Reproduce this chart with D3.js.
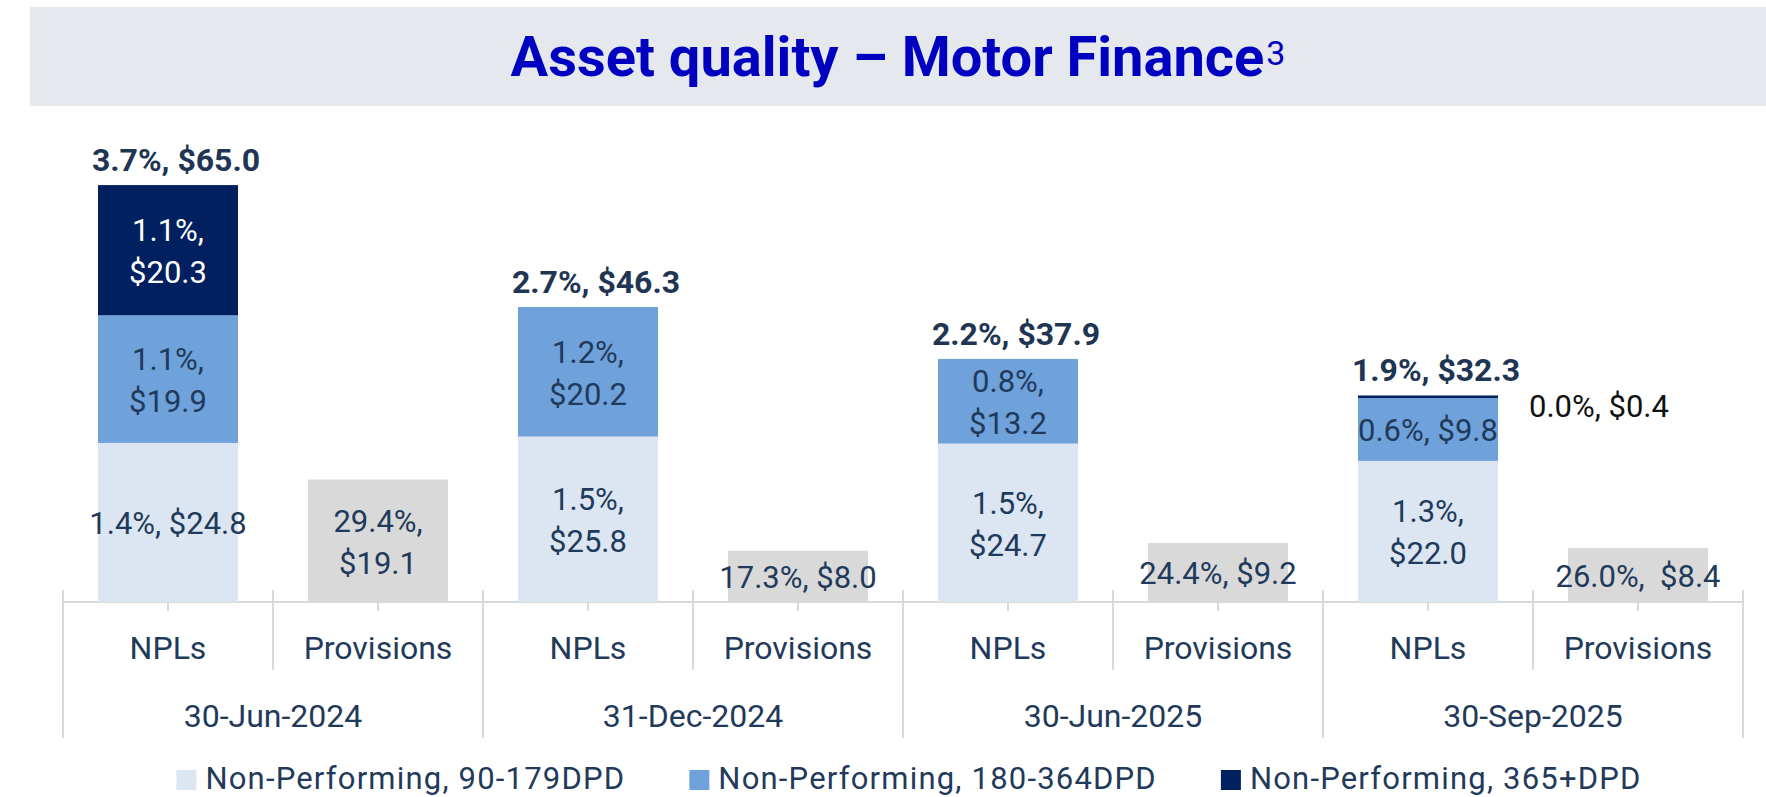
<!DOCTYPE html>
<html>
<head>
<meta charset="utf-8">
<script src="https://cdn.jsdelivr.net/npm/d3@7"></script>
<style>
  body { margin: 0; background: #fff; }
  svg { display: block; font-family: Roboto, "Noto Sans", sans-serif; }
</style>
</head>
<body>
<svg id="chart" width="1766" height="797"></svg>
<script>
// DATA
var dates = ["30-Jun-2024", "31-Dec-2024", "30-Jun-2025", "30-Sep-2025"];
var subCats = ["NPLs", "Provisions"];

// NPL segments, $ values
var npl90 = [24.8, 25.8, 24.7, 22.0];
var npl180 = [19.9, 20.2, 13.2, 9.8];
var npl365 = [20.3, 0, 0, 0.4];
var provisions = [19.1, 8.0, 9.2, 8.4];

// labels ("\n" = line break)
var npl90Labels = ["1.4%, $24.8", "1.5%,\n$25.8", "1.5%,\n$24.7", "1.3%,\n$22.0"];
var npl180Labels = ["1.1%,\n$19.9", "1.2%,\n$20.2", "0.8%,\n$13.2", "0.6%, $9.8"];
var npl365Labels = ["1.1%,\n$20.3", "", "", "0.0%, $0.4"];
var provLabels = ["29.4%,\n$19.1", "17.3%, $8.0", "24.4%, $9.2", "26.0%,  $8.4"];
var totalLabels = ["3.7%, $65.0", "2.7%, $46.3", "2.2%, $37.9", "1.9%, $32.3"];

var seriesNames = ["Non-Performing, 90-179DPD", "Non-Performing, 180-364DPD", "Non-Performing, 365+DPD"];
var seriesColors = ["#dce6f2", "#6fa1db", "#002060"];
var provColor = "#d9d9d9";
var textColor = "#1f3a5a";

var svg = d3.select("#chart");

// TITLE
svg.append("rect")
    .attr("x", 30).attr("y", 7)
    .attr("width", 1736).attr("height", 99)
    .attr("fill", "#e5e8ec");

var title = svg.append("text")
    .attr("x", 898).attr("y", 76)
    .attr("text-anchor", "middle")
    .attr("fill", "#0000c0")
    .style("font-size", "56px")
    .style("font-weight", 700)
    .text("Asset quality – Motor Finance");
title.append("tspan")
    .attr("dy", -11)
    .attr("dx", 2)
    .style("font-size", "34px")
    .style("font-weight", 400)
    .text("3");

// SCALES
var axisY = 602;
var y = d3.scaleLinear().domain([0, 70]).range([axisY, axisY - 70 * 6.414]);

var x0 = d3.scaleBand().domain(dates).range([63, 1743]).padding(0);
var x1 = d3.scaleBand().domain(subCats).range([0, x0.bandwidth()])
    .paddingInner(1 / 3).paddingOuter(1 / 6);

// AXIS LINES
var axisColor = "#d9d9d9";
svg.append("line")
    .attr("x1", x0.range()[0]).attr("x2", x0.range()[1])
    .attr("y1", axisY).attr("y2", axisY)
    .attr("stroke", axisColor).attr("stroke-width", 2);

// group boundaries (long)
var bounds = dates.map(function(d) { return x0(d); }).concat([x0.range()[1]]);
svg.selectAll(".gtick").data(bounds).enter().append("line")
    .attr("x1", function(d) { return d; }).attr("x2", function(d) { return d; })
    .attr("y1", axisY - 12).attr("y2", 738)
    .attr("stroke", axisColor).attr("stroke-width", 2);

// inner boundaries between NPLs and Provisions
svg.selectAll(".itick").data(dates).enter().append("line")
    .attr("x1", function(d) { return x0(d) + x0.bandwidth() / 2; })
    .attr("x2", function(d) { return x0(d) + x0.bandwidth() / 2; })
    .attr("y1", axisY - 12).attr("y2", 670)
    .attr("stroke", axisColor).attr("stroke-width", 2);

// small ticks at category centres + labels
dates.forEach(function(dt) {
    subCats.forEach(function(s) {
        var cx = x0(dt) + x1(s) + x1.bandwidth() / 2;
        svg.append("line")
            .attr("x1", cx).attr("x2", cx)
            .attr("y1", axisY).attr("y2", axisY + 9)
            .attr("stroke", axisColor).attr("stroke-width", 2);
        svg.append("text")
            .attr("x", cx).attr("y", 659)
            .attr("text-anchor", "middle")
            .attr("fill", textColor)
            .style("font-size", "32px")
            .text(s);
    });
    svg.append("text")
        .attr("x", x0(dt) + x0.bandwidth() / 2).attr("y", 727)
        .attr("text-anchor", "middle")
        .attr("fill", textColor)
        .style("font-size", "32px")
        .text(dt);
});

// multi line label helper, centred at (cx, cy)
function addLabel(cx, cy, txt, color) {
    var lines = txt.split("\n");
    var t = svg.append("text")
        .attr("text-anchor", "middle")
        .attr("fill", color)
        .style("font-size", "31px");
    lines.forEach(function(l, i) {
        t.append("tspan")
            .attr("x", cx)
            .attr("y", cy + 12 - (lines.length - 1) * 21 + i * 42)
            .style("white-space", "pre")
            .text(l);
    });
}

// BARS
dates.forEach(function(dt, i) {
    var bx = x0(dt) + x1("NPLs"), bw = x1.bandwidth();
    var segs = [npl90[i], npl180[i], npl365[i]];
    var labs = [npl90Labels[i], npl180Labels[i], npl365Labels[i]];
    var base = 0;
    segs.forEach(function(v, k) {
        if (v > 0) {
            svg.append("rect")
                .attr("x", bx).attr("width", bw)
                .attr("y", y(base + v)).attr("height", y(base) - y(base + v))
                .attr("fill", seriesColors[k]);
            if (labs[k] && v >= 5) {
                addLabel(bx + bw / 2, (y(base) + y(base + v)) / 2, labs[k], k === 2 ? "#fff" : textColor);
            }
        }
        base += v;
    });

    // tiny 365+ slice, label to the right
    if (npl365[i] > 0 && npl365[i] < 5) {
        svg.append("text")
            .attr("x", bx + bw + 31).attr("y", y(base) + 22)
            .attr("fill", "#111")
            .style("font-size", "31px")
            .text(npl365Labels[i]);
    }

    // total on top
    svg.append("text")
        .attr("x", bx + bw / 2 + 8).attr("y", y(base) - 14)
        .attr("text-anchor", "middle")
        .attr("fill", "#1e3553")
        .style("font-size", "32px")
        .style("font-weight", 700)
        .text(totalLabels[i]);

    // provisions
    var px = x0(dt) + x1("Provisions");
    svg.append("rect")
        .attr("x", px).attr("width", bw)
        .attr("y", y(provisions[i])).attr("height", y(0) - y(provisions[i]))
        .attr("fill", provColor);
    addLabel(px + bw / 2, (y(0) + y(provisions[i])) / 2, provLabels[i], textColor);
});

// LEGEND
var legend = svg.append("g");
var lx = 0, gap = 64;
seriesNames.forEach(function(n, k) {
    var g = legend.append("g").attr("transform", "translate(" + lx + ",0)");
    g.append("rect")
        .attr("x", 0).attr("y", 770)
        .attr("width", 20).attr("height", 20)
        .attr("fill", seriesColors[k]);
    var t = g.append("text")
        .attr("x", 29).attr("y", 789)
        .attr("fill", textColor)
        .style("font-size", "31px")
        .style("letter-spacing", "1.2px")
        .text(n);
    lx += 29 + t.node().getComputedTextLength() + gap;
});
var lw = lx - gap;
legend.attr("transform", "translate(" + (909 - lw / 2) + ",0)");
</script>
</body>
</html>
